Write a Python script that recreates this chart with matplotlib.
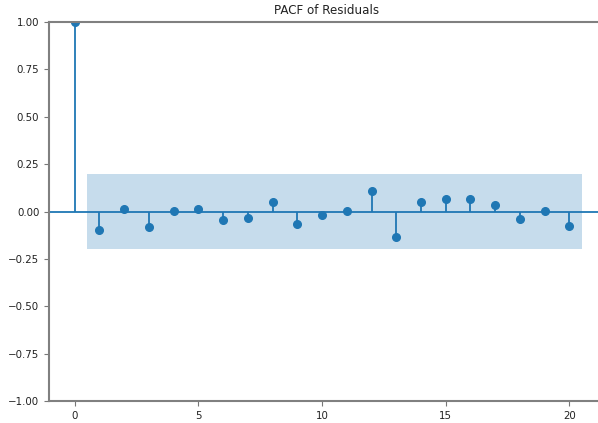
import numpy as np
import matplotlib
matplotlib.use("Agg")
import matplotlib.pyplot as plt

lags = np.arange(0, 21)
pacf_vals = [1.0, -0.096, 0.013, -0.083, 0.004, 0.013, -0.046, -0.035, 0.052,
             -0.067, -0.018, 0.004, 0.110, -0.135, 0.052, 0.064, 0.068, 0.036,
             -0.040, 0.004, -0.075]
conf = 0.2
band_x = [0.5, 20.5]

fig = plt.figure(figsize=(5.98, 4.23), dpi=100)
# axes runs past the right edge, like the cropped original
ax = fig.add_axes([49 / 598, 22 / 423, 553 / 598, 379 / 423])

ax.vlines(lags, 0, pacf_vals, color="C0", lw=1.3)
ax.plot(lags, pacf_vals, "o", color="C0", markersize=5.5)
ax.axhline(0, color="C0", lw=1.3)
ax.fill_between(band_x, -conf, conf, color="C0", alpha=0.25, lw=0)

ax.set_xlim(-1.04, 21.32)
ax.set_ylim(-1, 1)
ax.set_yticks([-1, -0.75, -0.5, -0.25, 0, 0.25, 0.5, 0.75, 1])
ax.set_yticklabels([f"{v:.2f}".replace("-", "\u2212") for v in ax.get_yticks()])
ax.set_xticks([0, 5, 10, 15, 20])
ax.tick_params(labelsize=7.4, color="#777777", labelcolor="#222222")
for sp in ax.spines.values():
    sp.set_color("#808080")
    sp.set_linewidth(1.5)

fig.text(327 / 598, 1 - 11 / 423, "PACF of Residuals", ha="center", va="center",
         fontsize=8.6, color="#222222")

fig.savefig("out.png", dpi=100)
